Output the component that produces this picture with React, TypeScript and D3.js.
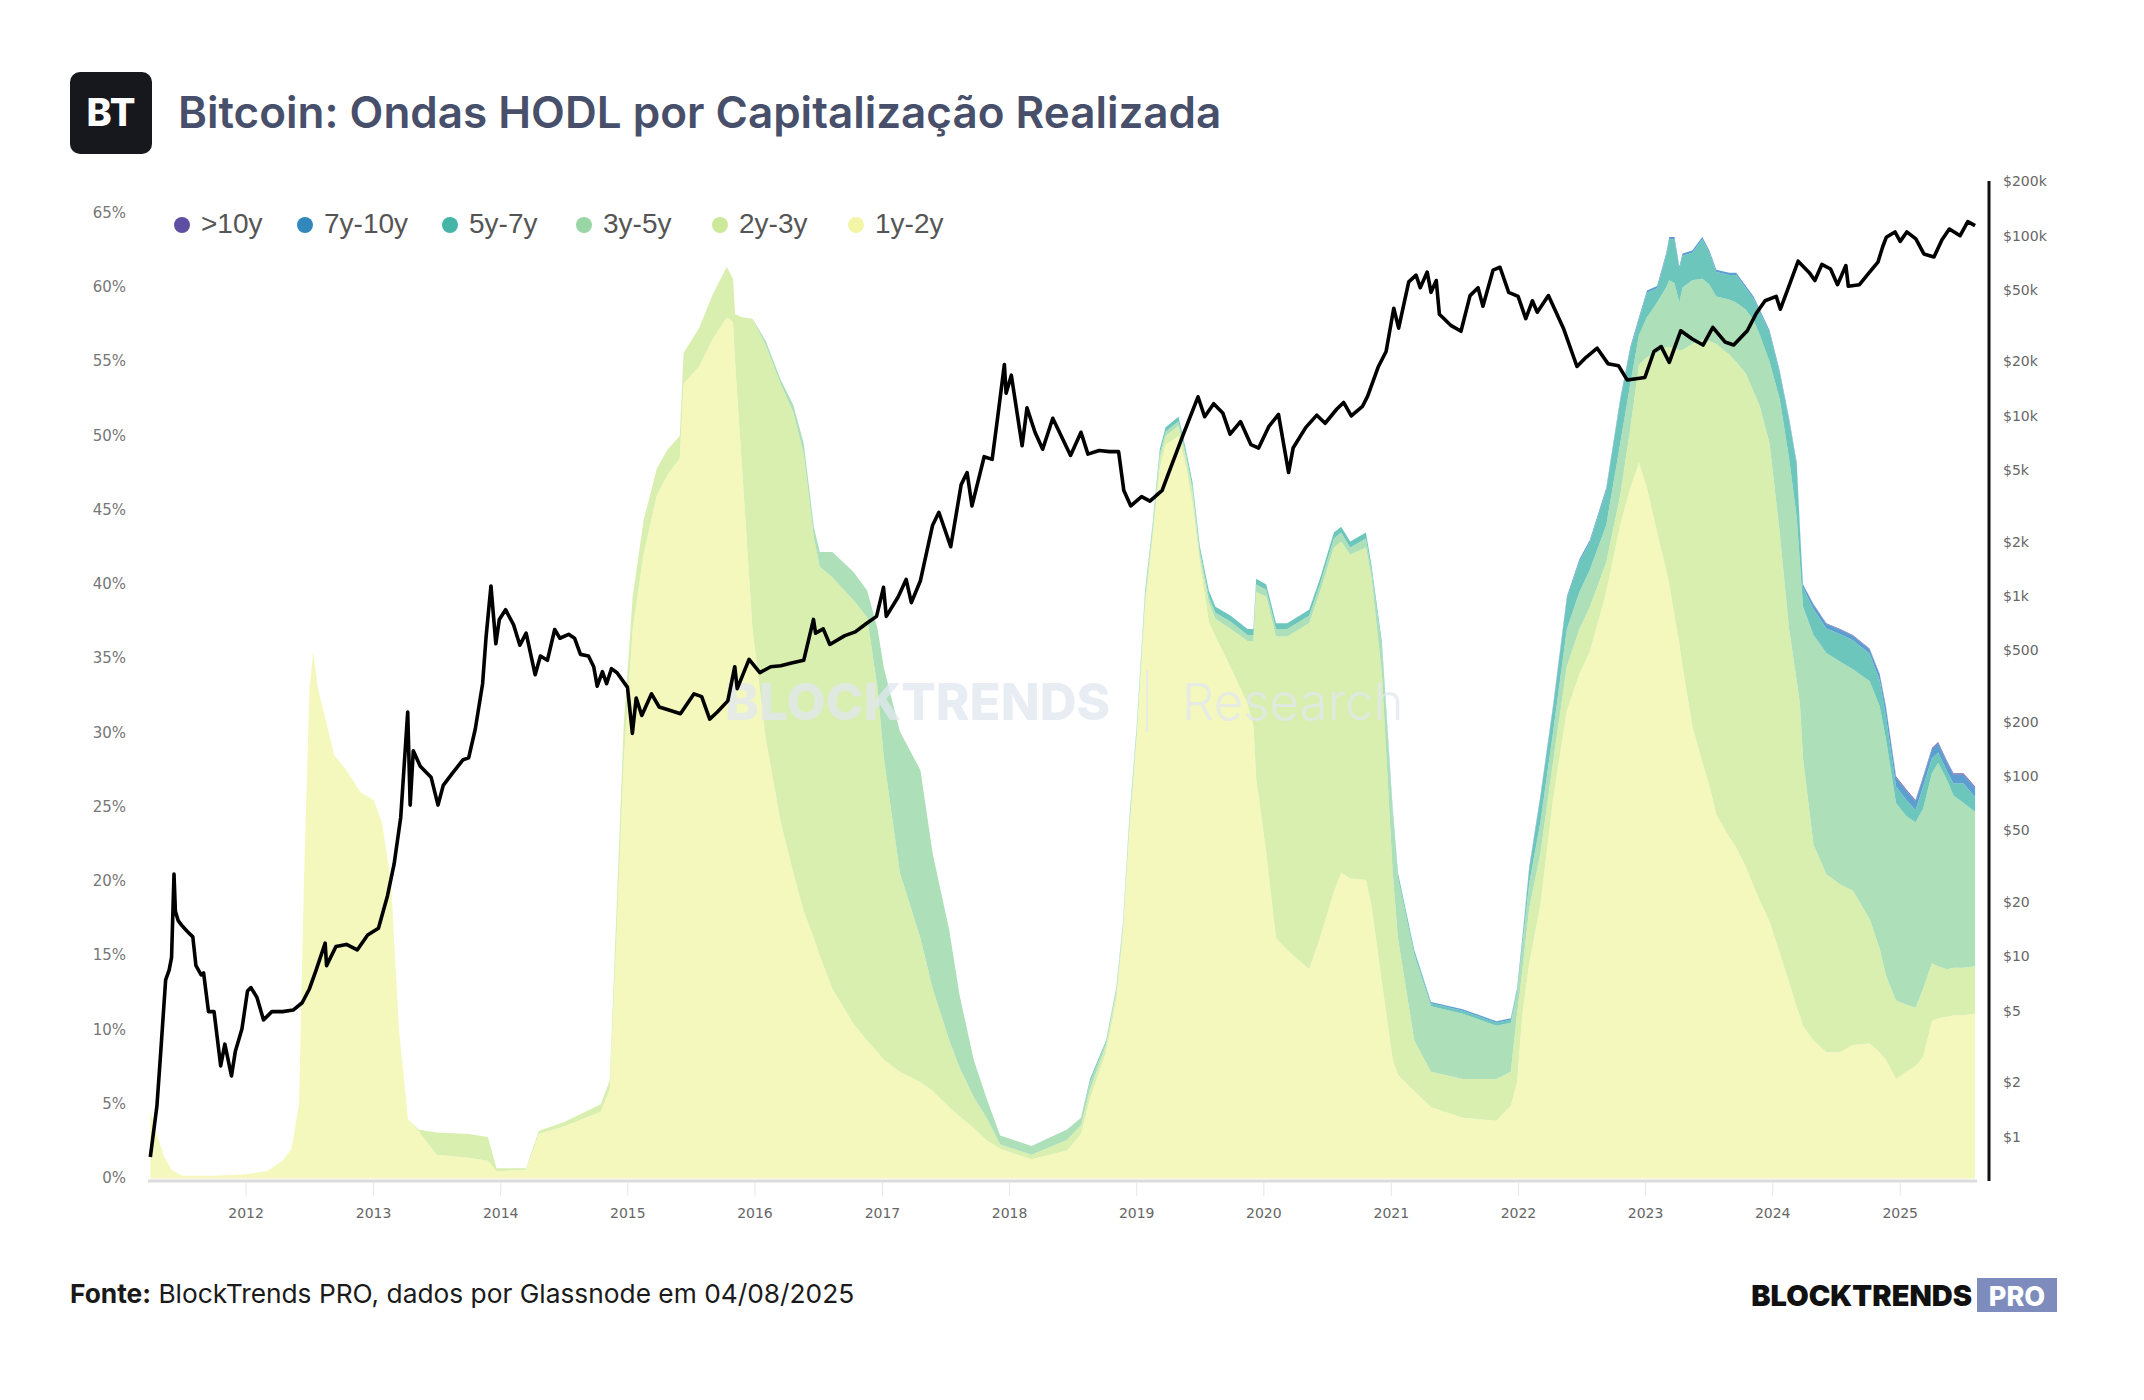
import React from "react";
import * as d3 from "d3";

// ---------- DATA ----------
const dates = [
  "2011-04-01","2011-04-20","2011-05-10","2011-06-01","2011-07-01","2011-10-01","2012-01-01","2012-03-01","2012-04-15","2012-05-10",
  "2012-06-01","2012-06-15","2012-07-01","2012-07-12","2012-07-25","2012-08-10","2012-09-10","2012-10-15","2012-11-25","2013-01-01",
  "2013-01-25","2013-02-20","2013-03-15","2013-04-10","2013-05-10","2013-07-01","2013-10-01","2013-11-25","2013-12-20","2014-03-15",
  "2014-04-20","2014-07-01","2014-10-15","2014-11-10","2014-12-01","2014-12-20","2015-01-15","2015-02-15","2015-03-25","2015-04-25",
  "2015-05-30","2015-06-10","2015-07-25","2015-09-01","2015-10-12","2015-10-30","2015-11-05","2015-11-25","2015-12-25","2016-02-01",
  "2016-03-15","2016-04-20","2016-05-20","2016-06-18","2016-07-05","2016-08-10","2016-10-08","2016-11-18","2016-12-18","2017-01-05",
  "2017-02-20","2017-04-20","2017-05-25","2017-07-12","2017-08-10","2017-09-20","2017-10-27","2017-12-05","2018-03-05","2018-06-15",
  "2018-07-25","2018-08-20","2018-10-05","2018-11-03","2018-11-22","2018-12-10","2019-01-01","2019-01-25","2019-02-15","2019-03-08",
  "2019-03-25","2019-05-01","2019-05-22","2019-06-10","2019-07-01","2019-07-27","2019-08-15","2019-09-28","2019-11-15","2019-12-02",
  "2019-12-10","2020-01-08","2020-02-05","2020-03-08","2020-05-10","2020-06-10","2020-07-20","2020-08-10","2020-09-05","2020-10-20",
  "2020-11-05","2020-12-05","2021-01-05","2021-01-20","2021-03-08","2021-04-25","2021-07-25","2021-10-30","2021-12-10","2021-12-28",
  "2022-01-12","2022-02-01","2022-03-05","2022-04-10","2022-05-20","2022-06-25","2022-07-25","2022-09-10","2022-10-20","2022-11-18",
  "2022-12-13","2023-01-05","2023-02-03","2023-03-01","2023-03-10","2023-03-25","2023-04-08","2023-04-17","2023-05-15","2023-06-13",
  "2023-07-03","2023-07-23","2023-08-29","2023-09-18","2023-10-16","2023-11-07","2023-11-25","2023-12-23","2024-01-21","2024-02-17",
  "2024-03-10","2024-03-19","2024-03-28","2024-04-27","2024-06-03","2024-07-13","2024-08-18","2024-10-05","2024-11-03","2024-11-21",
  "2024-12-20","2025-01-19","2025-02-14","2025-03-08","2025-04-02","2025-04-20","2025-05-16","2025-06-03","2025-07-02","2025-08-04",
];

const s1y2y = [
  4.5,3.0,1.5,0.6,0.2,0.2,0.3,0.5,1.2,2.0,
  5,20,33,35.5,33,31.5,28.5,27.5,26,25.5,
  24,20,10,4,3.2,1.6,1.4,1.2,0.5,0.6,
  3.0,3.5,4.5,6.0,17,28,37,42,46,47.4,
  48.5,53.5,54.7,56.5,58,57.7,55,47.8,37,29.6,
  24,20.6,18,16.2,15,12.8,10.5,9.3,8.5,8,
  7.2,6.5,5.9,4.8,4.2,3.4,2.6,2.0,1.3,1.9,
  3.0,5.4,8.5,12,16.3,23,29.6,38.5,43,47.8,
  49.4,50,48,45.5,41.5,37.5,36.5,34.4,32,30.5,
  27,21.9,16.2,15.4,14.1,16.2,19.3,20.6,20.2,20.1,
  18.4,13.2,8,7,5.9,4.8,4.1,3.9,4.9,6.5,
  11,14.5,18.4,25.5,31.5,34,35.5,39.5,44,46.5,
  48.2,46.5,43.5,41,40,37.9,36,34.5,30.5,28,
  26.5,24.5,23,22.3,21,19.7,18.7,17.3,15.2,13.2,
  11.5,11,10.3,9.3,8.5,8.5,9,9.1,8.5,8,
  6.7,7.2,7.6,8.2,10.6,10.8,10.9,11,11,11.1,
];

const s2y3y = [
  0,0,0,0,0,0,0,0,0,0,
  0,0,0,0,0,0,0,0,0,0,
  0,0,0,0,0.1,1.5,1.6,1.6,0.2,0.1,
  0.2,0.3,0.5,0.6,2,2.5,2.2,2.3,1.8,1.7,
  1.5,2.1,2.6,3.0,3.4,2.9,3.2,10.2,20.9,26.5,
  29.5,31.0,30.8,27.0,26.2,27.7,28.5,28.5,24.5,20.3,
  13.4,9.7,6.9,4.5,3.3,2.1,1.5,0.3,0.3,0.7,
  0.6,0.6,0.5,0.5,0.5,0.6,0.5,0.6,0.5,0.7,
  0.6,0.7,0.6,0.8,0.5,1.3,1.2,2.6,4.2,5.7,
  12.5,17.3,20.3,21.1,23.3,23.3,23.2,22.3,21.8,22.4,
  22.1,20.8,12.6,9.2,3.4,2.4,2.6,2.8,2.3,4.6,
  3,3.7,3.5,2.5,3.0,3,3,2,2,4,
  6.6,8.8,12.1,15,16,18,19.8,21.3,25.7,28.5,
  29.9,31.7,32.5,32.7,33.2,33.3,33.3,32.2,28.3,23.8,
  22,21,18,13.2,12,11.3,10.4,8.4,7,5.7,
  5.3,4.5,3.9,4.6,3.9,3.5,3.2,3.2,3.2,3.2,
];

const s3y5y = [
  0,0,0,0,0,0,0,0,0,0,
  0,0,0,0,0,0,0,0,0,0,
  0,0,0,0,0,0,0,0,0,0,
  0,0,0,0,0,0,0,0,0,0,
  0,0,0,0,0,0,0,0,0,0.3,
  0.3,0.5,0.7,0.7,1.0,1.7,1.9,1.8,4.0,6.1,
  9.5,11.3,9.1,7.4,4.9,2.5,1.3,0.6,0.6,0.7,
  0.5,0.5,0.2,0.2,0.2,0.25,0.25,0.3,0.2,0.3,
  0.3,0.3,0.25,0.3,0.3,0.4,0.4,0.5,0.4,0.4,
  0.5,0.45,0.5,0.5,0.5,0.5,0.6,0.6,0.5,0.6,
  0.5,1.8,4.0,4.1,5.8,4.4,4.4,3.6,3.3,1.4,
  1.7,1.7,2.1,2.0,2.5,2.5,2.5,2.5,3.5,3,
  2,2.7,3.4,4,4.5,4.4,3.2,4.2,4.3,4.1,
  3.8,3.2,3.7,4,4.3,4.8,4.8,5.5,9,11.5,
  11,9.5,10.2,14.1,14.9,15,14.9,16,16.3,15.9,
  13.3,12.7,12.5,12.1,12.8,13.7,12.7,11.6,11.1,10.4,
];

const s5y7y = [
  0,0,0,0,0,0,0,0,0,0,
  0,0,0,0,0,0,0,0,0,0,
  0,0,0,0,0,0,0,0,0,0,
  0,0,0,0,0,0,0,0,0,0,
  0,0,0,0,0,0,0,0,0,0,
  0,0,0,0,0,0,0,0,0,0,
  0,0,0,0,0,0,0,0,0,0,
  0,0.2,0.1,0.1,0.1,0.15,0.15,0.2,0.2,0.3,
  0.3,0.3,0.25,0.3,0.3,0.4,0.4,0.4,0.4,0.4,
  0.4,0.35,0.4,0.4,0.4,0.4,0.4,0.4,0.4,0.4,
  0.3,0.3,0.3,0.3,0.3,0.2,0.2,0.2,0.2,0.2,
  0.35,0.95,1.65,1.65,2.05,2.05,1.85,2.35,2.85,2.35,
  1.05,1.65,0.95,2.15,2.75,2.95,2.25,2.15,1.85,2.65,
  2.15,1.65,1.65,1.85,1.45,1.45,1.55,1.95,1.75,2.55,
  3.55,2.2,1.3,1.75,1.65,1.85,1.95,1.85,1.75,1.55,
  1.1,1.1,0.8,1.5,1.0,0.7,0.6,0.8,1.3,1.0,
];

const s7y10y = [
  0,0,0,0,0,0,0,0,0,0,
  0,0,0,0,0,0,0,0,0,0,
  0,0,0,0,0,0,0,0,0,0,
  0,0,0,0,0,0,0,0,0,0,
  0,0,0,0,0,0,0,0,0,0,
  0,0,0,0,0,0,0,0,0,0,
  0,0,0,0,0,0,0,0,0,0,
  0,0,0,0,0,0,0,0,0,0,
  0,0,0,0,0,0,0,0,0,0,
  0,0,0,0,0,0,0,0,0,0,
  0,0,0,0,0,0.1,0.1,0.1,0.1,0.1,
  0.15,0.15,0.15,0.15,0.15,0.15,0.15,0.15,0.15,0.15,
  0.15,0.15,0.15,0.15,0.15,0.15,0.15,0.15,0.15,0.15,
  0.15,0.15,0.15,0.15,0.15,0.15,0.15,0.15,0.15,0.15,
  0.15,0.2,0.2,0.3,0.3,0.3,0.3,0.3,0.4,0.6,
  0.6,0.6,0.6,0.6,0.6,0.6,0.6,0.6,0.6,0.6,
];

const s10y = [
  0,0,0,0,0,0,0,0,0,0,
  0,0,0,0,0,0,0,0,0,0,
  0,0,0,0,0,0,0,0,0,0,
  0,0,0,0,0,0,0,0,0,0,
  0,0,0,0,0,0,0,0,0,0,
  0,0,0,0,0,0,0,0,0,0,
  0,0,0,0,0,0,0,0,0,0,
  0,0,0,0,0,0,0,0,0,0,
  0,0,0,0,0,0,0,0,0,0,
  0,0,0,0,0,0,0,0,0,0,
  0,0,0,0,0,0,0,0,0,0,
  0,0,0,0,0,0,0,0,0,0,
  0,0,0,0,0,0,0,0,0,0,
  0,0,0,0,0,0,0,0,0,0,
  0,0,0,0.05,0.05,0.05,0.05,0.05,0.05,0.05,
  0.1,0.1,0.1,0.1,0.1,0.1,0.1,0.1,0.1,0.1,
];

const btcPrice: [string, number][] = [
  ["2011-04-01",0.78],["2011-04-20",1.5],["2011-05-01",3.0],["2011-05-15",7.5],["2011-05-25",8.5],["2011-06-01",10],["2011-06-08",29],["2011-06-12",18],["2011-06-20",16],["2011-07-01",15],
  ["2011-07-15",14],["2011-08-01",13],["2011-08-10",9],["2011-08-25",8],["2011-09-01",8.2],["2011-09-15",5],["2011-10-01",5],["2011-10-20",2.5],["2011-11-01",3.3],["2011-11-20",2.2],
  ["2011-12-01",3],["2011-12-20",4],["2012-01-05",6.5],["2012-01-15",6.8],["2012-02-01",6],["2012-02-20",4.5],["2012-03-15",5],["2012-04-15",5],["2012-05-15",5.1],["2012-06-10",5.6],
  ["2012-07-01",6.7],["2012-07-20",8.5],["2012-08-15",12],["2012-08-19",9],["2012-09-15",11.5],["2012-10-15",11.8],["2012-11-15",11],["2012-12-15",13.3],["2013-01-15",14.5],["2013-02-10",22],
  ["2013-03-01",33],["2013-03-20",60],["2013-04-09",230],["2013-04-16",70],["2013-04-25",140],["2013-05-15",115],["2013-06-15",100],["2013-07-05",70],["2013-07-20",90],["2013-08-15",105],
  ["2013-09-15",125],["2013-10-01",128],["2013-10-20",185],["2013-11-10",330],["2013-11-20",600],["2013-12-04",1150],["2013-12-18",550],["2013-12-28",750],["2014-01-15",850],["2014-02-07",700],
  ["2014-02-25",540],["2014-03-15",630],["2014-04-10",370],["2014-04-25",470],["2014-05-15",445],["2014-06-05",660],["2014-06-20",590],["2014-07-15",620],["2014-08-01",590],["2014-08-18",480],
  ["2014-09-10",470],["2014-09-25",410],["2014-10-05",320],["2014-10-20",385],["2014-11-01",330],["2014-11-15",400],["2014-12-01",380],["2014-12-31",315],["2015-01-14",175],["2015-01-25",275],
  ["2015-02-10",220],["2015-03-10",290],["2015-04-01",245],["2015-05-01",235],["2015-06-01",225],["2015-07-10",290],["2015-08-01",280],["2015-08-24",210],["2015-09-15",230],["2015-10-15",265],
  ["2015-11-04",410],["2015-11-11",310],["2015-12-15",450],["2016-01-15",380],["2016-02-15",410],["2016-03-15",415],["2016-04-15",430],["2016-05-20",445],["2016-06-17",750],["2016-06-23",630],
  ["2016-07-15",665],["2016-08-03",545],["2016-09-15",610],["2016-10-15",640],["2016-11-15",710],["2016-12-15",780],["2017-01-04",1130],["2017-01-12",780],["2017-02-15",1000],["2017-03-10",1250],
  ["2017-03-25",930],["2017-04-20",1230],["2017-05-25",2500],["2017-06-12",2950],["2017-07-16",1900],["2017-08-15",4200],["2017-09-01",4900],["2017-09-15",3200],["2017-10-20",6000],["2017-11-12",5800],
  ["2017-11-28",10000],["2017-12-17",19500],["2017-12-22",13500],["2018-01-06",17000],["2018-02-06",6900],["2018-02-20",11200],["2018-03-15",8200],["2018-04-06",6600],["2018-05-05",9800],["2018-06-25",6100],
  ["2018-07-25",8200],["2018-08-14",6200],["2018-09-15",6500],["2018-10-15",6400],["2018-11-10",6400],["2018-11-25",3900],["2018-12-15",3200],["2019-01-15",3600],["2019-02-08",3400],["2019-03-15",3900],
  ["2019-04-05",5000],["2019-05-15",8000],["2019-06-26",12900],["2019-07-15",10000],["2019-08-10",11800],["2019-09-05",10500],["2019-09-26",8000],["2019-10-26",9400],["2019-11-25",7000],["2019-12-17",6700],
  ["2020-01-15",8800],["2020-02-12",10300],["2020-03-12",4900],["2020-03-25",6700],["2020-04-30",8700],["2020-06-01",10200],["2020-06-25",9200],["2020-07-28",11000],["2020-08-17",12000],["2020-09-08",10100],
  ["2020-10-10",11400],["2020-10-25",13000],["2020-11-25",19000],["2020-12-17",23000],["2021-01-08",40000],["2021-01-22",31000],["2021-02-20",56000],["2021-03-13",61000],["2021-03-25",52000],["2021-04-14",63500],
  ["2021-04-25",49000],["2021-05-10",57000],["2021-05-19",37000],["2021-06-22",32000],["2021-07-20",29800],["2021-08-15",47000],["2021-09-07",52000],["2021-09-21",41000],["2021-10-20",65000],["2021-11-09",67500],
  ["2021-12-04",49000],["2021-12-31",46500],["2022-01-22",35000],["2022-02-10",44000],["2022-02-24",38000],["2022-03-28",47000],["2022-05-10",31000],["2022-06-18",19000],["2022-07-10",21000],["2022-08-15",24000],
  ["2022-09-15",19700],["2022-10-15",19200],["2022-11-09",16000],["2022-12-30",16500],["2023-01-25",23000],["2023-02-15",24500],["2023-03-10",20000],["2023-04-12",30000],["2023-05-15",27000],["2023-06-15",25000],
  ["2023-07-13",31300],["2023-08-17",26000],["2023-09-11",25000],["2023-10-20",30000],["2023-11-15",37500],["2023-12-10",44000],["2024-01-11",46500],["2024-01-23",39500],["2024-02-15",52000],["2024-03-14",73000],
  ["2024-04-15",63000],["2024-05-01",57000],["2024-05-21",70000],["2024-06-15",66000],["2024-07-05",54000],["2024-07-29",69000],["2024-08-05",53000],["2024-09-06",54000],["2024-10-01",62000],["2024-10-29",72000],
  ["2024-11-12",88000],["2024-11-22",99000],["2024-12-17",106000],["2025-01-01",94000],["2025-01-20",106000],["2025-02-15",97000],["2025-03-10",80000],["2025-04-08",77000],["2025-05-01",96000],["2025-05-22",110000],
  ["2025-06-22",101000],["2025-07-14",121000],["2025-08-04",115000],
];

const seriesKeys = ["1y-2y", "2y-3y", "3y-5y", "5y-7y", "7y-10y", ">10y"];
const legendOrder = [">10y", "7y-10y", "5y-7y", "3y-5y", "2y-3y", "1y-2y"];
const pctTicks = [0, 5, 10, 15, 20, 25, 30, 35, 40, 45, 50, 55, 60, 65];
const priceTicks = [1, 2, 5, 10, 20, 50, 100, 200, 500, 1000, 2000, 5000, 10000, 20000, 50000, 100000, 200000];
const priceTickLabels = ["$1", "$2", "$5", "$10", "$20", "$50", "$100", "$200", "$500", "$1k", "$2k", "$5k", "$10k", "$20k", "$50k", "$100k", "$200k"];
const yearTicks = [2012, 2013, 2014, 2015, 2016, 2017, 2018, 2019, 2020, 2021, 2022, 2023, 2024, 2025];

// ---------- STYLES ----------
const areaFill: Record<string, string> = {
  "1y-2y": "#f5f8bd",
  "2y-3y": "#d9efb0",
  "3y-5y": "#addfb8",
  "5y-7y": "#6dc6bc",
  "7y-10y": "#5b9fd0",
  ">10y": "#7a6fb5",
};
const legendFill: Record<string, string> = {
  ">10y": "#5e4fa2",
  "7y-10y": "#3288bd",
  "5y-7y": "#45b5a8",
  "3y-5y": "#99d5a5",
  "2y-3y": "#cce99a",
  "1y-2y": "#f2f6a6",
};
const legendX = [182, 305, 450, 584, 720, 856];

export default function App() {
  const W = 2144;
  const H = 1400;
  const parse = d3.timeParse("%Y-%m-%d");

  const x = d3.scaleTime()
    .domain([parse("2012-01-01") as Date, parse("2025-01-01") as Date])
    .range([246.1, 1900.2]);
  const yPct = d3.scaleLinear().domain([0, 65]).range([1178.6, 213.3]);
  const yPrice = d3.scaleLog().domain([1, 100000]).range([1137.6, 236.5]);

  const cols: Record<string, number[]> = {
    "1y-2y": s1y2y, "2y-3y": s2y3y, "3y-5y": s3y5y,
    "5y-7y": s5y7y, "7y-10y": s7y10y, ">10y": s10y,
  };
  const rows = dates.map((d, i) => {
    const r: any = { date: parse(d) };
    seriesKeys.forEach((k) => { r[k] = cols[k][i] ?? 0; });
    return r;
  });
  const stacked = d3.stack<any>().keys(seriesKeys)(rows);
  const area = d3.area<any>()
    .x((d) => x(d.data.date))
    .y0((d) => yPct(d[0]))
    .y1((d) => yPct(d[1]))
    .curve(d3.curveLinear);

  const line = d3.line<[string, number]>()
    .x((d) => x(parse(d[0]) as Date))
    .y((d) => yPrice(d[1]))
    .curve(d3.curveLinear);

  const axisFont = "'DejaVu Sans', Verdana, sans-serif";
  const uiFont = "Inter, 'Noto Sans', sans-serif";

  return (
    <svg width={W} height={H} viewBox={`0 0 ${W} ${H}`}
      style={{ position: "absolute", left: 0, top: 0, background: "#ffffff", display: "block" }}>
      <rect x={0} y={0} width={W} height={H} fill="#ffffff" />

      {/* Header */}
      <rect x={70} y={72} width={82} height={82} rx={10} fill="#16181d" />
      <text x={111} y={126} textAnchor="middle" fill="#ffffff" fontFamily={uiFont} fontWeight={800} fontSize={38}>BT</text>
      <text x={178} y={128} fill="#474f6a" fontFamily={uiFont} fontWeight={600} fontSize={44}>
        Bitcoin: Ondas HODL por Capitalização Realizada
      </text>

      {/* Stacked areas */}
      <g>
        {stacked.map((s) => (
          <path key={s.key} d={area(s as any) || ""} fill={areaFill[s.key]} stroke="none" />
        ))}
      </g>

      {/* Watermark */}
      <g opacity={0.75}>
        <text x={725} y={720} fill="#e1e8f1" fontFamily={uiFont} fontWeight={800} fontSize={51}>BLOCKTRENDS</text>
        <line x1={1147} x2={1147} y1={670} y2={732} stroke="#e1e8f1" strokeWidth={2} />
        <text x={1182} y={720} fill="#e1e8f1" fontFamily={uiFont} fontWeight={300} fontSize={51}>Research</text>
      </g>

      {/* Bottom axis */}
      <line x1={148} x2={1977} y1={1181} y2={1181} stroke="#dcdcdc" strokeWidth={3} />
      {yearTicks.map((yr) => {
        const px = x(new Date(yr, 0, 1));
        return (
          <g key={yr}>
            <line x1={px} x2={px} y1={1183} y2={1196} stroke="#e6e6e6" strokeWidth={1} />
            <text x={px} y={1214} textAnchor="middle" dominantBaseline="middle" fill="#666" fontFamily={axisFont} fontSize={14}>{yr}</text>
          </g>
        );
      })}

      {/* Left axis labels */}
      {pctTicks.map((t) => (
        <text key={t} x={126} y={yPct(t)} textAnchor="end" dominantBaseline="middle" fill="#777" fontFamily={axisFont} fontSize={15}>{`${t}%`}</text>
      ))}

      {/* Right axis */}
      <line x1={1989} x2={1989} y1={181} y2={1181} stroke="#111" strokeWidth={3} />
      {priceTicks.map((t, i) => (
        <text key={t} x={2003} y={yPrice(t)} dominantBaseline="middle" fill="#666" fontFamily={axisFont} fontSize={14}>{priceTickLabels[i]}</text>
      ))}

      {/* Price line */}
      <path d={line(btcPrice) || ""} fill="none" stroke="#000" strokeWidth={3.6} strokeLinejoin="round" />

      {/* Legend */}
      {legendOrder.map((k, i) => (
        <g key={k}>
          <circle cx={legendX[i]} cy={225} r={8} fill={legendFill[k]} />
          <text x={legendX[i] + 19} y={226} dominantBaseline="middle" fill="#555" fontFamily="'Liberation Sans', Arial, sans-serif" fontSize={28}>{k}</text>
        </g>
      ))}

      {/* Footer */}
      <text x={70} y={1303} fill="#1a1a1a" fontFamily={uiFont} fontSize={26.3}>
        <tspan fontWeight={700}>Fonte:</tspan>
        <tspan fontWeight={400}> BlockTrends PRO, dados por Glassnode em 04/08/2025</tspan>
      </text>
      <text x={1972} y={1306} textAnchor="end" fill="#111" fontFamily={uiFont} fontWeight={900} fontSize={29}>BLOCKTRENDS</text>
      <rect x={1977} y={1278} width={80} height={34} fill="#7e8cbd" />
      <text x={2017} y={1306} textAnchor="middle" fill="#ffffff" fontFamily={uiFont} fontWeight={800} fontSize={27}>PRO</text>
    </svg>
  );
}
